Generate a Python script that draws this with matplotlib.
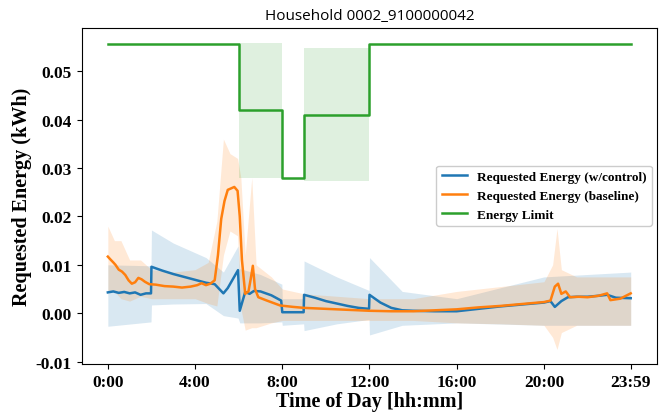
import matplotlib
matplotlib.use('Agg')
import matplotlib.pyplot as plt

# time of day in hours
ctrl_t = [0.0, 0.25, 0.5, 0.75, 1.0, 1.25, 1.5, 1.75, 1.98, 2.0, 2.5, 3.0, 3.5, 4.0, 4.5, 4.9,
          5.3, 5.5, 5.97, 6.05, 6.3, 6.5, 6.7, 7.0, 7.5, 7.95, 8.0, 8.98, 9.0, 9.5, 10.0, 10.5,
          11.0, 11.5, 11.98, 12.0, 12.5, 13.0, 13.5, 14.0, 15.0, 16.0, 17.0, 18.0, 19.0, 20.0,
          20.3, 20.5, 20.8, 21.1, 21.5, 22.0, 22.5, 22.9, 23.3, 23.98]
ctrl_mean = [0.0043, 0.0045, 0.0042, 0.0044, 0.0041, 0.0043, 0.0038, 0.0041, 0.0041, 0.0096,
             0.0088, 0.0081, 0.0075, 0.0069, 0.0063, 0.0060, 0.0041, 0.0052, 0.0089, 0.0005,
             0.0044, 0.0040, 0.0046, 0.0045, 0.0037, 0.0026, 0.0002, 0.0002, 0.0038, 0.0032,
             0.0025, 0.0020, 0.0015, 0.0011, 0.0009, 0.0038, 0.0022, 0.0011, 0.0006, 0.0005,
             0.0004, 0.0004, 0.0009, 0.0014, 0.0018, 0.0022, 0.0025, 0.0013, 0.0025, 0.0033,
             0.0034, 0.0034, 0.0036, 0.0038, 0.0032, 0.0031]

ctrl_band_t = [0.0, 1.98, 2.0, 3.0, 4.5, 5.3, 5.97, 6.05, 7.0, 7.98, 8.0, 8.98, 9.0, 10.5,
               11.98, 12.0, 13.5, 16.0, 20.0, 23.98]
ctrl_lo = [-0.0027, -0.0018, 0.0017, 0.0019, 0.0020, -0.0005, -0.0010, -0.0020, -0.0020,
           -0.0018, -0.0025, -0.0022, -0.0036, -0.0022, -0.0013, -0.0045, -0.0025, -0.0020,
           -0.0025, -0.0025]
ctrl_hi = [0.0100, 0.0098, 0.0172, 0.0145, 0.0115, 0.0085, 0.0139, 0.0092, 0.0080, 0.0060,
           0.0030, 0.0030, 0.0108, 0.0075, 0.0047, 0.0115, 0.0045, 0.0030, 0.0075, 0.0085]

base_t = [0.0, 0.1, 0.25, 0.35, 0.5, 0.65, 0.8, 0.95, 1.1, 1.25, 1.4, 1.55, 1.7, 1.9, 2.2,
          2.6, 3.0, 3.4, 3.8, 4.1, 4.3, 4.5, 4.7, 4.9, 5.05, 5.2, 5.35, 5.5, 5.65, 5.8, 5.95,
          6.05, 6.15, 6.3, 6.45, 6.55, 6.65, 6.75, 6.9, 7.3, 7.9, 8.5, 9.0, 10.0, 11.0, 12.0,
          13.0, 14.0, 15.0, 16.0, 17.0, 18.0, 19.0, 20.0, 20.3, 20.5, 20.65, 20.8, 21.0, 21.2,
          21.6, 22.0, 22.5, 22.9, 23.05, 23.5, 23.98]
base_mean = [0.0117, 0.0112, 0.0105, 0.0100, 0.0090, 0.0086, 0.0079, 0.0068, 0.0061, 0.0064,
             0.0073, 0.0070, 0.0065, 0.0060, 0.0059, 0.0056, 0.0055, 0.0053, 0.0055, 0.0058,
             0.0062, 0.0058, 0.0061, 0.0068, 0.0120, 0.0195, 0.0232, 0.0255, 0.0258, 0.0261,
             0.0253, 0.0200, 0.0110, 0.0040, 0.0045, 0.0070, 0.0098, 0.0050, 0.0033, 0.0026,
             0.0016, 0.0013, 0.0011, 0.0009, 0.0007, 0.0005, 0.0004, 0.0004, 0.0006, 0.0008,
             0.0012, 0.0015, 0.0019, 0.0023, 0.0026, 0.0055, 0.0061, 0.0040, 0.0045, 0.0033,
             0.0034, 0.0033, 0.0036, 0.0041, 0.0027, 0.0030, 0.0041]

base_band_t = [0.0, 0.3, 0.6, 1.0, 1.5, 2.0, 3.0, 4.0, 4.6, 5.0, 5.3, 5.6, 5.95, 6.1, 6.3,
               6.6, 6.8, 7.5, 8.0, 9.0, 12.0, 14.0, 16.0, 18.0, 20.0, 20.4, 20.6, 20.8, 21.5,
               23.98]
base_lo = [0.0045, 0.0045, 0.0030, 0.0025, 0.0035, 0.0030, 0.0030, 0.0030, 0.0020, 0.0015,
           0.0120, 0.0170, 0.0160, 0.0010, -0.0035, -0.0030, -0.0030, -0.0020, -0.0015,
           -0.0015, -0.0015, -0.0015, -0.0020, -0.0022, -0.0025, -0.0050, -0.0075, -0.0040,
           -0.0025, -0.0025]
base_hi = [0.0180, 0.0150, 0.0150, 0.0110, 0.0110, 0.0090, 0.0085, 0.0090, 0.0105, 0.0190,
           0.0360, 0.0330, 0.0320, 0.0280, 0.0120, 0.0280, 0.0100, 0.0075, 0.0050, 0.0040,
           0.0030, 0.0030, 0.0045, 0.0055, 0.0065, 0.0100, 0.0175, 0.0090, 0.0075, 0.0075]

limit_t = [0.0, 6.0, 8.0, 9.0, 12.0, 23.98]
limit_v = [0.0556, 0.0420, 0.0280, 0.0410, 0.0556, 0.0556]
limit_lo = [0.0556, 0.0280, 0.0280, 0.0273, 0.0556, 0.0556]
limit_hi = [0.0556, 0.0558, 0.0280, 0.0548, 0.0556, 0.0556]

tick_hours = [0, 4, 8, 12, 16, 20, 23 + 59 / 60]
tick_labels = ['0:00', '4:00', '8:00', '12:00', '16:00', '20:00', '23:59']

serif = 'Liberation Serif'

fig = plt.figure(figsize=(6.63, 4.14), dpi=100)
ax = fig.add_axes([0.1232, 0.1184, 0.8682, 0.8108])

ax.fill_between(ctrl_band_t, ctrl_lo, ctrl_hi, color='C0', alpha=0.17, linewidth=0)
ax.fill_between(base_band_t, base_lo, base_hi, color='C1', alpha=0.17, linewidth=0)
ax.fill_between(limit_t, limit_lo, limit_hi, step='post', color='C2', alpha=0.15, linewidth=0)

ax.plot(ctrl_t, ctrl_mean, color='C0', lw=1.8, label='Requested Energy (w/control)')
ax.plot(base_t, base_mean, color='C1', lw=1.8, label='Requested Energy (baseline)')
ax.step(limit_t, limit_v, where='post', color='C2', lw=1.8, label='Energy Limit')

ax.set_xlim(-1.2, 25.2)
ax.set_ylim(-0.0105, 0.0589)
ax.set_xticks(tick_hours)
ax.set_xticklabels(tick_labels)
ax.set_yticks([-0.01, 0.0, 0.01, 0.02, 0.03, 0.04, 0.05])
ax.set_yticklabels(['-0.01', '0.00', '0.01', '0.02', '0.03', '0.04', '0.05'])
for lbl in ax.get_xticklabels() + ax.get_yticklabels():
    lbl.set_fontfamily(serif)
    lbl.set_fontweight('bold')
    lbl.set_fontsize(12.5)

ax.set_xlabel('Time of Day [hh:mm]', fontfamily=serif, fontweight='bold', fontsize=14.5, labelpad=1)
ax.set_ylabel('Requested Energy (kWh)', fontfamily=serif, fontweight='bold', fontsize=14.5, labelpad=3)
ax.set_title('Household 0002_9100000042', fontfamily='Open Sans', fontsize=11, pad=7)

ax.legend(loc='upper right', bbox_to_anchor=(0.991, 0.591), borderaxespad=0,
          prop={'family': serif, 'weight': 'bold', 'size': 9.5}, handlelength=1.9,
          framealpha=1)

plt.savefig('out.png', dpi=100)
